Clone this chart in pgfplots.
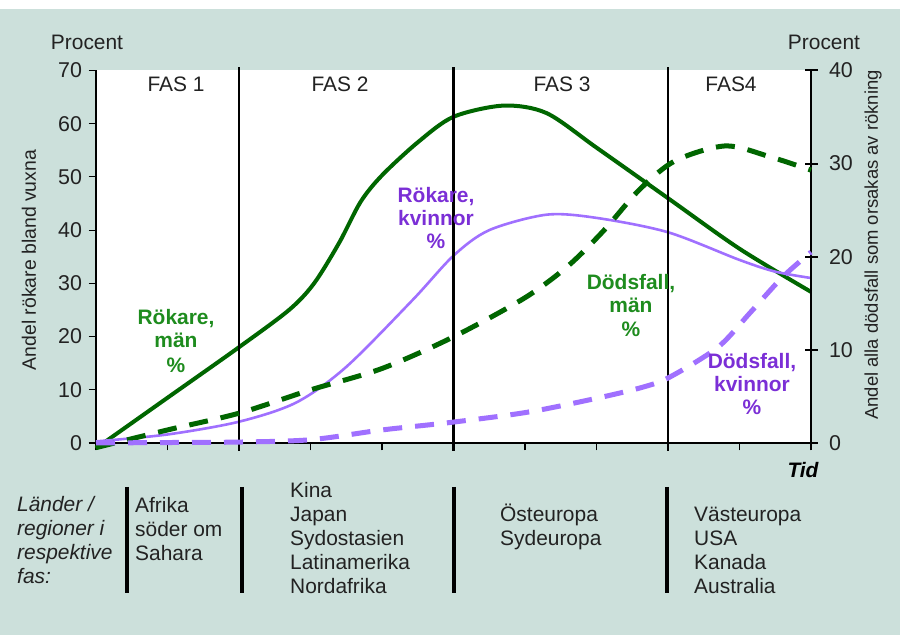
\documentclass[border=0pt]{standalone}
\usepackage{pgfplots}
\pgfplotsset{compat=1.18}
\usepackage{fontspec}
\setmainfont{Liberation Sans}
\definecolor{bgcol}{HTML}{CCE0DB}
\definecolor{dkgreen}{HTML}{006600}
\definecolor{txgreen}{HTML}{1E8C1E}
\definecolor{lpurple}{HTML}{A070FF}
\definecolor{txpurple}{HTML}{7B2FD6}
\definecolor{txt}{HTML}{222222}
\newcommand{\F}{\fontsize{21}{24}\selectfont}
\begin{document}
\begin{tikzpicture}[x=1bp,y=1bp]
\useasboundingbox (0,0) rectangle (900,635);
\fill[white] (0,0) rectangle (900,635);
\fill[bgcol] (0,0) rectangle (900,626);
\begin{axis}[at={(96bp,192bp)}, anchor=south west, scale only axis,
  width=715bp, height=372.5bp, xmin=0, xmax=10, ymin=0, ymax=70,
  clip=false, axis background/.style={fill=white},
  axis x line*=bottom, axis y line*=left, axis line style={-, line width=1.1bp, black},
  xtick={0,1,...,10}, xticklabels={}, ytick={0,10,...,70},
  tick align=outside, major tick length=7.5bp, tick style={line width=1.1bp, black},
  yticklabel style={xshift=-3bp},
  /pgf/number format/assume math mode=true,
  ticklabel style={font=\fontsize{21.5}{24}\selectfont, text=txt}]
\addplot[dkgreen, line width=4bp, smooth] coordinates {
(0,-1) (1,8.5) (2,18) (2.7,25) (3.05,30) (3.4,37.6) (3.7,45.3) (4.0,50.3) (4.5,56.5) (5,61.3) (5.7,63.4) (6.3,62) (7,55.5) (8,46) (9,36.5) (10,28.4)};
\addplot[lpurple, line width=2.6bp, smooth] coordinates {
(0,0.3) (1,1.6) (2,4) (2.8,7.6) (3.5,14.3) (4.43,26.9) (5,35.2) (5.5,40) (6.3,42.9) (7,42.3) (8,39.6) (9,34.4) (9.5,32.2) (10,31)};
\draw[black, line width=2.2bp] (axis cs:2,-1.5) -- (axis cs:2,70.7);
\draw[black, line width=2.2bp] (axis cs:5,-1.5) -- (axis cs:5,70.7);
\draw[black, line width=2.2bp] (axis cs:8,-1.5) -- (axis cs:8,70.7);
\end{axis}
\begin{axis}[at={(96bp,192bp)}, anchor=south west, scale only axis,
  width=715bp, height=372.5bp, xmin=0, xmax=10, ymin=0, ymax=40,
  clip=false, axis x line=none, axis y line*=right,
  axis line style={-, line width=2.2bp, black},
  ytick={0,10,...,40}, tick align=center, major tick length=13bp,
  tick style={line width=2bp, black},
  yticklabel style={xshift=8bp},
  /pgf/number format/assume math mode=true,
  ticklabel style={font=\fontsize{21.5}{24}\selectfont, text=txt}]
\addplot[dkgreen, line width=5bp, dash pattern=on 19bp off 13bp, smooth] coordinates {
(0,-0.5) (1,1.4) (2,3.2) (3,5.7) (4,8) (5,11.4) (6,15.6) (6.6,19) (7.1,22.8) (7.6,27.2) (8.1,30.3) (8.8,31.9) (9.4,30.8) (10,29.3)};
\addplot[lpurple, line width=5bp, dash pattern=on 19bp off 13bp, smooth] coordinates {
(0,0) (1,0.05) (2,0.1) (3,0.35) (4,1.4) (4.95,2.2) (6.03,3.3) (7,4.8) (7.65,6) (8.03,7.1) (8.7,10.3) (9.15,14) (9.6,17.8) (10,20.5)};
\end{axis}
% top labels
\node[anchor=base, text=txt, font=\F] at (87,585) {Procent};
\node[anchor=base, text=txt, font=\F] at (824,585) {Procent};
\node[anchor=base, text=txt, font=\F] at (176,543) {FAS 1};
\node[anchor=base, text=txt, font=\F] at (340,543) {FAS 2};
\node[anchor=base, text=txt, font=\F] at (562,543) {FAS 3};
\node[anchor=base, text=txt, font=\F] at (731,543) {FAS4};
% axis titles
\node[rotate=90, text=txt, font=\fontsize{19.5}{23}\selectfont] at (29,375) {Andel rökare bland vuxna};
\node[rotate=90, text=txt, font=\fontsize{18.5}{22}\selectfont] at (873,390) {Andel alla dödsfall som orsakas av rökning};
% series labels
\foreach \t/\y in {{Rökare,}/310, {män}/287, {\%}/262}
  \node[anchor=base, text=txgreen, font=\F\bfseries] at (176,\y) {\t};
\foreach \t/\y in {{Rökare,}/432, {kvinnor}/409, {\%}/386}
  \node[anchor=base, text=txpurple, font=\F\bfseries] at (436,\y) {\t};
\foreach \t/\y in {{Dödsfall,}/345, {män}/322, {\%}/298}
  \node[anchor=base, text=txgreen, font=\F\bfseries] at (631,\y) {\t};
\foreach \t/\y in {{Dödsfall,}/266, {kvinnor}/243, {\%}/220}
  \node[anchor=base, text=txpurple, font=\F\bfseries] at (752,\y) {\t};
\node[anchor=base, text=black, font=\F\bfseries\itshape] at (803,157) {Tid};
% bottom section
\foreach \x in {127,242,454,667}
  \draw[black, line width=3.8bp] (\x,148) -- (\x,42);
\foreach \t/\y in {{Länder /}/123, {regioner i}/99, {respektive}/75, {fas:}/51}
  \node[anchor=base west, inner sep=0, text=txt, font=\F\itshape] at (17,\y) {\t};
\foreach \t/\y in {{Afrika}/122, {söder om}/98, {Sahara}/74}
  \node[anchor=base west, inner sep=0, text=txt, font=\F] at (135,\y) {\t};
\foreach \t/\y in {{Kina}/137, {Japan}/113, {Sydostasien}/89, {Latinamerika}/65, {Nordafrika}/41}
  \node[anchor=base west, inner sep=0, text=txt, font=\F] at (290,\y) {\t};
\foreach \t/\y in {{Östeuropa}/113, {Sydeuropa}/89}
  \node[anchor=base west, inner sep=0, text=txt, font=\F] at (500,\y) {\t};
\foreach \t/\y in {{Västeuropa}/113, {USA}/89, {Kanada}/65, {Australia}/41}
  \node[anchor=base west, inner sep=0, text=txt, font=\F] at (694,\y) {\t};
\end{tikzpicture}
\end{document}
